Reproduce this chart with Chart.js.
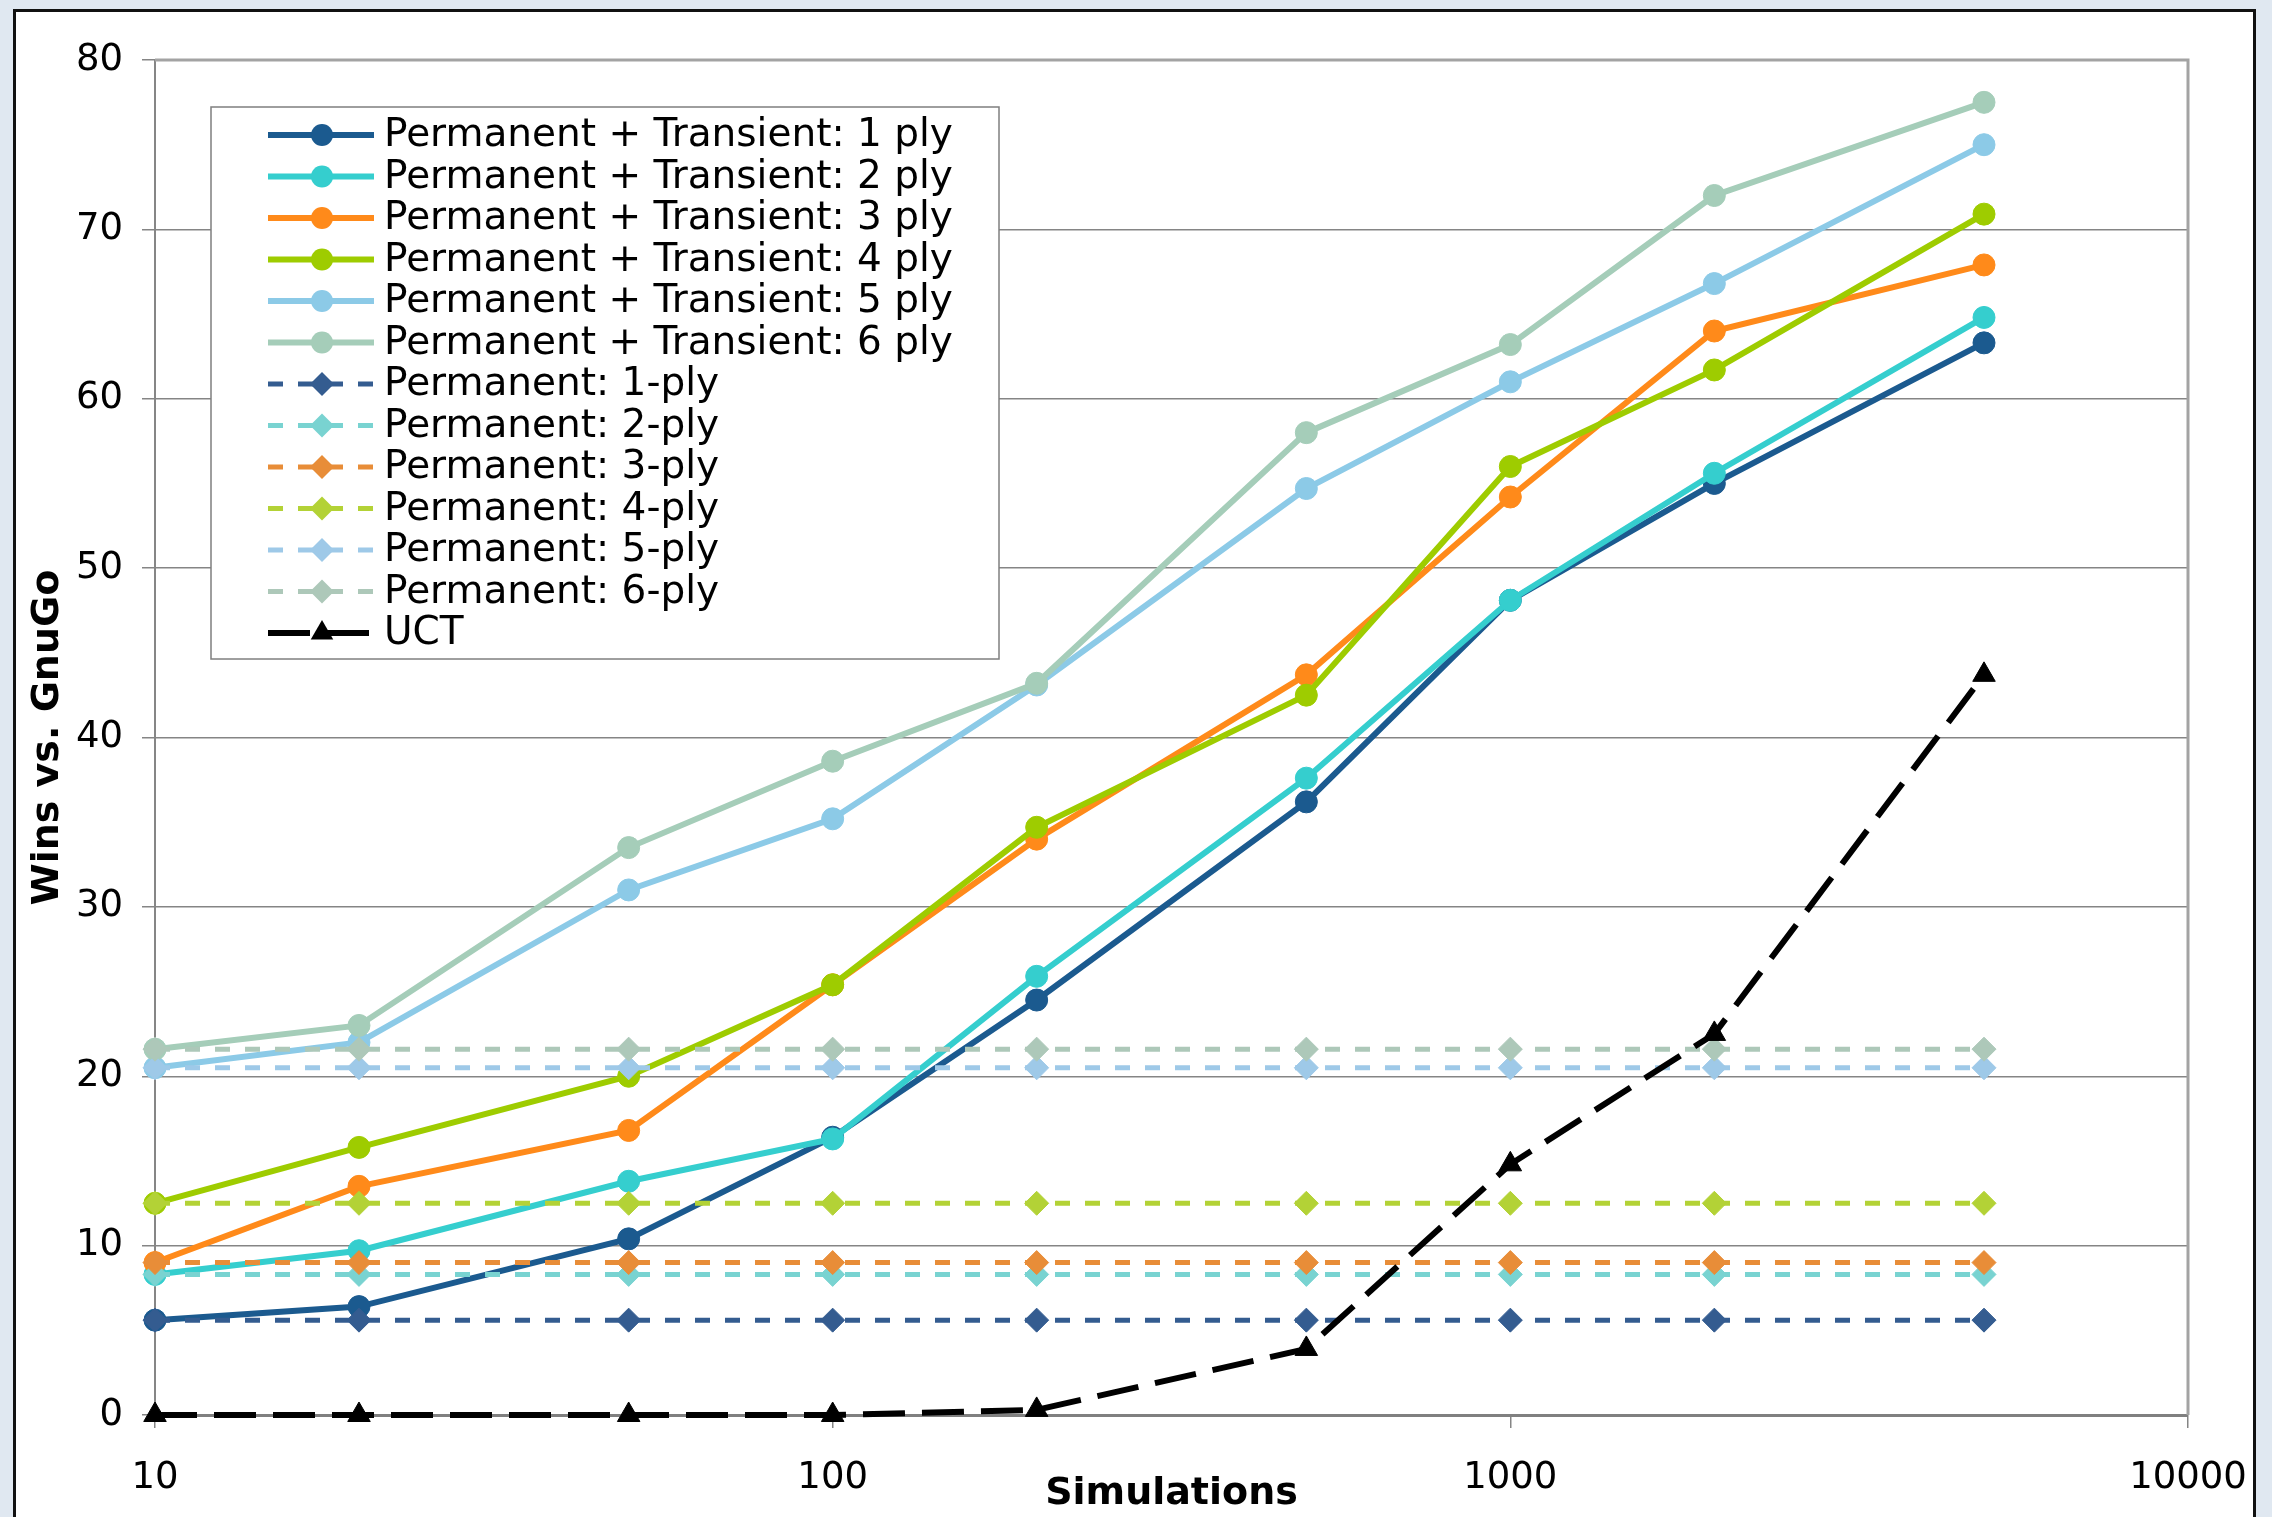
<!DOCTYPE html>
<html>
<head>
<meta charset="utf-8">
<script src="https://cdn.jsdelivr.net/npm/chart.js@4/dist/chart.umd.min.js"></script>
<style>
    html, body { margin: 0; padding: 0; background: #e0e8f1; overflow: hidden; }
    #frame { position: absolute; left: 13px; top: 9px; width: 2237px; height: 1540px; background: #fff; border: 3px solid #111; }
    #wrap { position: absolute; left: 0; top: 0; width: 2272px; height: 1517px; }
</style>
</head>
<body>
<div id="frame"></div>
<div id="wrap"><canvas id="winsChart" width="2272" height="1517"></canvas></div>
<script>
// x values (simulations per move)
const simulations = [10, 20, 50, 100, 200, 500, 1000, 2000, 5000];
const xTicks = [10, 100, 1000, 10000];

// Permanent + Transient
const pt1 = [5.6, 6.4, 10.4, 16.4, 24.5, 36.2, 48.1, 55.0, 63.3];
const pt2 = [8.3, 9.7, 13.8, 16.3, 25.9, 37.6, 48.1, 55.6, 64.8];
const pt3 = [9.0, 13.5, 16.8, 25.4, 34.0, 43.7, 54.2, 64.0, 67.9];
const pt4 = [12.5, 15.8, 20.0, 25.4, 34.7, 42.5, 56.0, 61.7, 70.9];
const pt5 = [20.5, 22.0, 31.0, 35.2, 43.1, 54.7, 61.0, 66.8, 75.0];
const pt6 = [21.6, 23.0, 33.5, 38.6, 43.2, 58.0, 63.2, 72.0, 77.5];

// Permanent only (flat)
const perm1 = [5.6, 5.6, 5.6, 5.6, 5.6, 5.6, 5.6, 5.6, 5.6];
const perm2 = [8.3, 8.3, 8.3, 8.3, 8.3, 8.3, 8.3, 8.3, 8.3];
const perm3 = [9.0, 9.0, 9.0, 9.0, 9.0, 9.0, 9.0, 9.0, 9.0];
const perm4 = [12.5, 12.5, 12.5, 12.5, 12.5, 12.5, 12.5, 12.5, 12.5];
const perm5 = [20.5, 20.5, 20.5, 20.5, 20.5, 20.5, 20.5, 20.5, 20.5];
const perm6 = [21.6, 21.6, 21.6, 21.6, 21.6, 21.6, 21.6, 21.6, 21.6];

// plain UCT
const uct = [0, 0, 0, 0, 0.3, 3.9, 14.8, 22.5, 43.7];

const seriesNames = [
    'Permanent + Transient: 1 ply', 'Permanent + Transient: 2 ply', 'Permanent + Transient: 3 ply',
    'Permanent + Transient: 4 ply', 'Permanent + Transient: 5 ply', 'Permanent + Transient: 6 ply',
    'Permanent: 1-ply', 'Permanent: 2-ply', 'Permanent: 3-ply',
    'Permanent: 4-ply', 'Permanent: 5-ply', 'Permanent: 6-ply',
    'UCT'
];
const seriesValues = [pt1, pt2, pt3, pt4, pt5, pt6, perm1, perm2, perm3, perm4, perm5, perm6, uct];
const ptColors = ['#1b5a8f', '#35cece', '#ff8a1a', '#9ecc00', '#8ccae7', '#a5cdb9'];
const permColors = ['#345c90', '#79d3d1', '#e88d38', '#b3d236', '#9ec9e8', '#adc8b9'];

const FONT = "'DejaVu Sans', Verdana, sans-serif";

function makeDataset(i) {
    let color, style, dash, radius, width;
    if (i < 6) { color = ptColors[i]; style = 'circle'; dash = []; radius = 11; width = 6; }
    else if (i < 12) { color = permColors[i - 6]; style = 'rectRot'; dash = [15, 15]; radius = 12; width = 5; }
    else { color = '#000000'; style = 'triangle'; dash = [42, 17]; radius = 13; width = 6; }
    return {
        label: seriesNames[i],
        data: simulations.map((x, k) => ({ x: x, y: seriesValues[i][k] })),
        borderColor: color,
        backgroundColor: color,
        pointBackgroundColor: color,
        pointBorderColor: color,
        pointBorderWidth: 1,
        pointStyle: style,
        pointRadius: radius,
        borderWidth: width,
        borderDash: dash,
        tension: 0,
        clip: false,
        order: seriesNames.length - i   // later series drawn on top, like the original
    };
}

// grey border round the plot area
const plotBorder = {
    id: 'plotBorder',
    beforeDatasetsDraw(chart) {
        const a = chart.chartArea, ctx = chart.ctx;
        ctx.save();
        ctx.strokeStyle = '#a3a3a3';
        ctx.lineWidth = 3;
        ctx.beginPath();
        ctx.moveTo(a.left, a.top);
        ctx.lineTo(a.right, a.top);
        ctx.lineTo(a.right, a.bottom);
        ctx.stroke();
        ctx.restore();
    }
};

function drawMarker(ctx, style, x, y, r) {
    ctx.beginPath();
    if (style === 'circle') {
        ctx.arc(x, y, r, 0, Math.PI * 2);
    } else if (style === 'rectRot') {
        ctx.moveTo(x, y - r); ctx.lineTo(x + r, y); ctx.lineTo(x, y + r); ctx.lineTo(x - r, y);
        ctx.closePath();
    } else {
        ctx.moveTo(x, y - r); ctx.lineTo(x + r * 0.866, y + r * 0.5); ctx.lineTo(x - r * 0.866, y + r * 0.5);
        ctx.closePath();
    }
    ctx.fill();
}

// Excel style legend box inside the plot
const boxLegend = {
    id: 'boxLegend',
    afterDraw(chart) {
        const ctx = chart.ctx;
        const left = 211, top = 107, w = 788, h = 552;
        ctx.save();
        ctx.fillStyle = '#ffffff';
        ctx.fillRect(left, top, w, h);
        ctx.strokeStyle = '#7f7f7f';
        ctx.lineWidth = 1.5;
        ctx.strokeRect(left, top, w, h);
        chart.data.datasets.forEach((ds, i) => {
            const y = 135 + i * 41.5;
            ctx.strokeStyle = ds.borderColor;
            ctx.lineWidth = ds.borderWidth;
            ctx.setLineDash(ds.borderDash);
            ctx.beginPath();
            ctx.moveTo(268, y);
            ctx.lineTo(374, y);
            ctx.stroke();
            ctx.setLineDash([]);
            ctx.fillStyle = ds.pointBackgroundColor;
            drawMarker(ctx, ds.pointStyle, 322, y, ds.pointRadius);
            ctx.fillStyle = '#000';
            ctx.font = '39px ' + FONT;
            ctx.textBaseline = 'middle';
            ctx.textAlign = 'left';
            ctx.fillText(ds.label, 384, y + 1);
        });
        ctx.restore();
    }
};

new Chart(document.getElementById('winsChart'), {
    type: 'line',
    data: { datasets: seriesNames.map((n, i) => makeDataset(i)) },
    options: {
        responsive: false,
        animation: false,
        events: [],
        layout: { padding: { left: 0, top: 60, right: 84, bottom: 0 } },
        plugins: {
            legend: { display: false },
            tooltip: { enabled: false }
        },
        scales: {
            x: {
                type: 'logarithmic',
                min: 10,
                max: 10000,
                afterBuildTicks: (scale) => { scale.ticks = xTicks.map(v => ({ value: v, major: true })); },
                afterFit: (scale) => {
                    scale.height = 102;
                    scale.paddingLeft = 0;
                    scale.paddingRight = 0;
                },
                ticks: {
                    autoSkip: false,
                    maxRotation: 0,
                    padding: 28,
                    color: '#000',
                    font: { family: FONT, size: 37 },
                    callback: (v) => String(v)
                },
                grid: { display: true, drawOnChartArea: false, drawTicks: true, tickLength: 13, color: '#858585', lineWidth: 1.5 },
                border: { color: '#808080', width: 3 },
                title: {
                    display: true,
                    text: 'Simulations',
                    color: '#000',
                    font: { family: FONT, size: 38, weight: 'bold' },
                    padding: { top: 0, bottom: 0 }
                }
            },
            y: {
                min: 0,
                max: 80,
                afterFit: (scale) => { scale.width = 155; },
                ticks: {
                    stepSize: 10,
                    padding: 19,
                    color: '#000',
                    font: { family: FONT, size: 37 }
                },
                grid: { color: '#858585', lineWidth: 1.5, tickLength: 13 },
                border: { color: '#868686', width: 2 },
                title: {
                    display: true,
                    text: 'Wins vs. GnuGo',
                    color: '#000',
                    font: { family: FONT, size: 38, weight: 'bold' },
                    padding: { top: 25, bottom: 0 }
                }
            }
        }
    },
    plugins: [plotBorder, boxLegend]
});
</script>
</body>
</html>
